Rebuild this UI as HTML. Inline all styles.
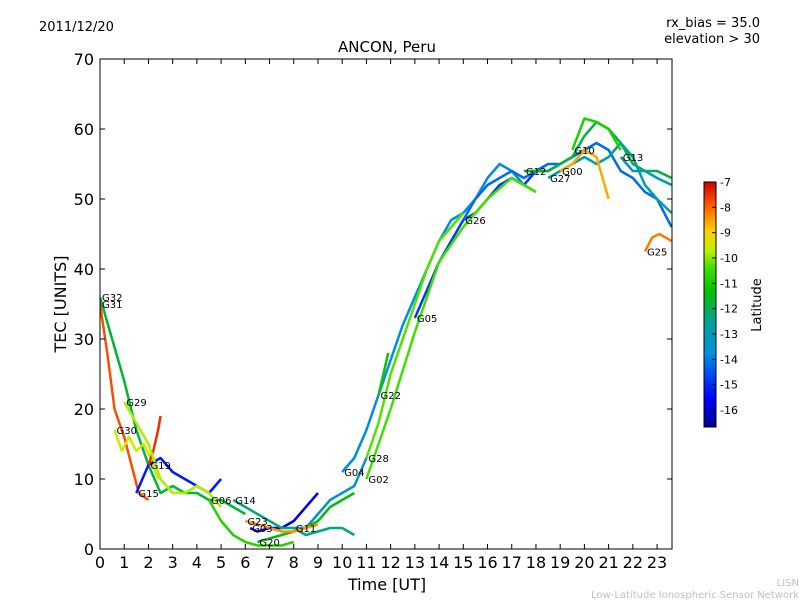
<!DOCTYPE html>
<html><head><meta charset="utf-8">
<style>
body{margin:0;background:#fff;font-family:"Liberation Sans","DejaVu Sans",sans-serif}
svg text{font-family:"DejaVu Sans","Liberation Sans",sans-serif}
</style></head>
<body>
<svg id="chart" width="800" height="600" xmlns="http://www.w3.org/2000/svg">
<defs>
<linearGradient id="jet" x1="0" y1="1" x2="0" y2="0">
<stop offset="0" stop-color="#00008f"/><stop offset="0.12" stop-color="#0000ff"/>
<stop offset="0.3" stop-color="#0090e0"/><stop offset="0.42" stop-color="#00a0a0"/>
<stop offset="0.55" stop-color="#00c000"/><stop offset="0.65" stop-color="#40e000"/>
<stop offset="0.72" stop-color="#c0f000"/><stop offset="0.8" stop-color="#ffd000"/>
<stop offset="0.9" stop-color="#ff6000"/><stop offset="1" stop-color="#d00000"/>
</linearGradient>
<clipPath id="clip"><rect x="100" y="59" width="572" height="490"/></clipPath>
</defs>
<text x="39" y="31" font-size="13">2011/12/20</text>
<text x="760" y="27" font-size="13" text-anchor="end">rx_bias = 35.0</text>
<text x="760" y="43" font-size="13" text-anchor="end">elevation &gt; 30</text>
<text x="387" y="52" font-size="15" text-anchor="middle">ANCON, Peru</text>
<g id="marks" clip-path="url(#clip)"></g>
<g id="labels"></g>
<rect x="100" y="59" width="572" height="490" fill="none" stroke="#000"/>
<g id="axes"></g>
<text x="387" y="590" font-size="16" text-anchor="middle">Time [UT]</text>
<text transform="translate(66,304) rotate(-90)" font-size="16" text-anchor="middle">TEC [UNITS]</text>
<rect x="704" y="182" width="12" height="245" fill="url(#jet)" stroke="#000"/>
<g id="cbticks"></g>
<text transform="translate(761,305) rotate(-90)" font-size="13" text-anchor="middle">Latitude</text>
<text x="799" y="586" font-size="10" fill="#c0c0c0" text-anchor="end">LISN</text>
<text x="799" y="598" font-size="10" fill="#c0c0c0" text-anchor="end">Low-Latitude Ionospheric Sensor Network</text>
</svg>
<script>
const xTicks=[0,1,2,3,4,5,6,7,8,9,10,11,12,13,14,15,16,17,18,19,20,21,22,23];
const yTicks=[0,10,20,30,40,50,60,70];
const cbTicks=[-7,-8,-9,-10,-11,-12,-13,-14,-15,-16];
const seriesNames=["G31","G32","G30","G15","G06","G03","G11","G20","G04","G28","G05","G26","G12","G27","G00","G25","G19","G14","G22","G29","G02","G10","G13","G23"];
const times=[
[0,0.3,0.6,1,1.3,1.6,2],
[0,0.5,1,1.5,2,2.5,3,3.5,4,4.5,5,5.5,6],
[0.6,0.9,1.2,1.5,1.8,2.1,2.4],
[1.5,2,2.5,3,3.5,4,4.5,5],
[4.5,5,5.5,6,6.5,7,7.5,8],
[6.2,6.5,7,7.5,8,8.5,9],
[8,8.5,9,9.5,10,10.5,11],
[6.5,7,7.5,8,8.5,9,9.5,10,10.5],
[10,10.5,11,11.5,12,12.5,13,13.5,14,14.5,15,15.5,16,16.5,17,17.5,18],
[11,11.5,12,12.5,13,13.5,14,14.5,15],
[13,13.5,14,14.5,15,15.5,16,16.5,17,17.5,18,18.5,19],
[15,15.5,16,16.5,17,17.5,18,18.5,19,19.5,20,20.5,21,21.5,22,22.5,23,23.6],
[17.5,18,18.5,19,19.5,20,20.5,21,21.5,22,22.5,23,23.6],
[18.5,19,19.5,20,20.5,21,21.5,22,22.5,23,23.6],
[19,19.5,20,20.5,21],
[22.5,22.8,23.1,23.6],
[2,2.2,2.4,2.5],
[5.5,6,6.5,7,7.5,8,8.5,9,9.5,10,10.5],
[11.5,11.7,11.9],
[1,1.5,2,2.5,3,3.5,4,4.5,5],
[11,12,13,14,15,16,17,18],
[19.5,20,20.5,21,21.5],
[21.5,22,22.5,23,23.6],
[6,6.5,7,7.5,8,8.5,9]
];
const tecs=[
[35,28,20,16,12,8,7],
[36,30,24,17,12,8,9,8,8,7,7,6,5],
[17,14,16,14,15,13,10],
[8,12,13,11,10,9,8,10],
[7,4,2,1,0.5,0.5,0.5,1],
[3,2.5,3,3,4,6,8],
[3,3,5,7,8,9,13],
[1,1.5,2,2.5,3,4,6,7,8],
[11,13,17,22,27,32,36,40,44,47,48,50,53,55,54,52,51],
[13,18,25,30,35,40,44,46,48],
[33,37,41,44,47,48,50,52,53,52,54,54,55],
[47,50,52,53,54,53,54,55,55,56,57,58,57,54,53,51,50,46],
[54,54,54,55,56,59,61,60,58,55,54,54,53],
[53,54,55,56,55,56,58,56,52,50,48],
[54,55,57,56,50],
[42.5,44.5,45,44],
[12,14,17,19],
[7,6,5,4,3,3,2,2.5,3,3,2],
[22,25,28],
[21,18,15,10,8,8,9,8,6],
[10,20,31,41,46,50,53,51],
[57,61.5,61,60,57],
[56,54,54,53,52],
[4,3.5,3,2.5,2.5,3,3.5]
];
const lats=[-7.8,-11.8,-9.5,-15.2,-10.8,-15.8,-13.5,-11.5,-13.8,-10.3,-14.8,-14.2,-11.8,-12.6,-8.6,-8.2,-7.5,-12.3,-11.2,-9.8,-10.4,-10.9,-13.2,-8.4];
const px=t=>100+t*24.22, py=v=>549-v*7;
function jet(l){let t=Math.max(0,Math.min(1,(l+16.67)/9.67));
const st=[[0,0,0,143],[0.12,0,0,255],[0.3,0,144,224],[0.42,0,160,160],[0.55,0,192,0],[0.65,64,224,0],[0.72,192,240,0],[0.8,255,208,0],[0.9,255,96,0],[1,208,0,0]];
for(let i=1;i<st.length;i++){if(t<=st[i][0]){const a=st[i-1],b=st[i],f=(t-a[0])/(b[0]-a[0]);return `rgb(${[1,2,3].map(k=>Math.round(a[k]+(b[k]-a[k])*f)).join(',')})`;}}return 'rgb(208,0,0)';}
const NS='http://www.w3.org/2000/svg';
const mk=(tag,attrs,parent)=>{const e=document.createElementNS(NS,tag);for(const k in attrs)e.setAttribute(k,attrs[k]);parent.appendChild(e);return e;};
const marks=document.getElementById('marks'),labels=document.getElementById('labels');
times.forEach((ts,i)=>{
 const p=mk('polyline',{points:ts.map((t,j)=>px(t)+','+py(tecs[i][j])).join(' '),fill:'none',stroke:jet(lats[i]),'stroke-width':2.5,'stroke-linejoin':'round'},marks);
 
 
 const lb=mk('text',{x:px(ts[0])+2,y:py(tecs[i][0])+4,'font-size':10},labels);
 
 
 lb.textContent=seriesNames[i];
});
const ax=document.getElementById('axes');
xTicks.forEach(t=>{
 mk('line',{x1:px(t),x2:px(t),y1:549,y2:544,stroke:'#000'},ax);
 mk('line',{x1:px(t),x2:px(t),y1:59,y2:64,stroke:'#000'},ax);
 const tx=mk('text',{x:px(t),y:568,'font-size':16,'text-anchor':'middle'},ax);
 
 
 tx.textContent=t;
});
yTicks.forEach(v=>{
 mk('line',{x1:100,x2:105,y1:py(v),y2:py(v),stroke:'#000'},ax);
 mk('line',{x1:667,x2:672,y1:py(v),y2:py(v),stroke:'#000'},ax);
 const tx=mk('text',{x:94,y:py(v)+6,'font-size':16,'text-anchor':'end'},ax);
 
 
 tx.textContent=v;
});
const cb=document.getElementById('cbticks');
cbTicks.forEach(v=>{
 const y=182+(-7-v)*25.33;
 mk('line',{x1:712,x2:716,y1:y,y2:y,stroke:'#000'},cb);
 const tx=mk('text',{x:720,y:y+4,'font-size':11},cb);
 
 
 tx.textContent=v;
});
</script>
</body></html>
